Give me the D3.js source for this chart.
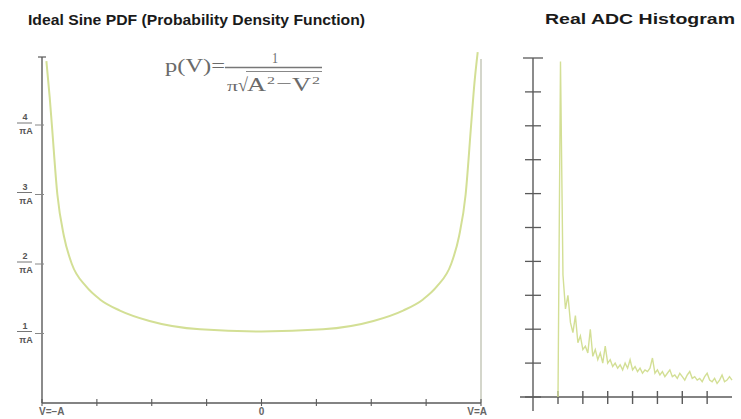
<!DOCTYPE html>
<html><head><meta charset="utf-8">
<script src="https://cdn.jsdelivr.net/npm/d3@7"></script>
<style>body{margin:0;background:#fff}svg{display:block}</style>
</head><body>
<script>
// ---- data ----
const pdfV = [-0.98,-0.965,-0.955,-0.93,-0.90,-0.864,-0.80,-0.736,-0.645,-0.51,-0.28,0,0.28,0.51,0.645,0.736,0.80,0.864,0.90,0.93,0.955,0.97,0.985];
const pdfP = [4.92,4.4,4.0,3.0,2.4,2.0,1.68,1.49,1.33,1.18,1.06,1.03,1.06,1.18,1.33,1.49,1.68,2.0,2.4,3.0,4.0,4.6,5.05];
const yTickVals = [1,2,3,4];
const yTickNums = ["1","2","3","4"];
const xTickVals = [-1,-0.75,-0.5,-0.25,0,0.25,0.5,0.75,1];
const xLabels = [{v:-1,t:"V=\u2212A"},{v:0,t:"0"},{v:1,t:"V=A"}];
const histCounts = [0,9.9,3.6,2.6,3.0,2.2,1.9,2.4,1.6,1.8,1.4,1.5,1.3,2.0,1.2,1.4,1.1,1.3,1.0,1.5,1.0,1.1,0.9,1.0,0.85,0.95,0.8,1.0,0.85,1.1,0.8,0.9,0.75,0.85,0.7,0.8,0.75,0.85,1.15,0.7,0.8,0.65,0.75,0.6,0.7,0.8,0.6,0.65,0.55,0.7,0.6,0.5,0.65,0.75,0.55,0.6,0.5,0.55,0.45,0.6,0.7,0.5,0.45,0.55,0.4,0.5,0.65,0.45,0.5,0.6,0.5];
const histYTicks = [0,1,2,3,4,5,6,7,8,9,10];
const histXTicks = [0,10,20,30,40,50,60];

const W=741,H=419;
const svg=d3.select("body").append("svg").attr("width",W).attr("height",H);
const axisCol="#5a5a5a", curveCol="#d3df95";
const sans="Liberation Sans, Arial, sans-serif";

// ---- left chart ----
const xL=d3.scaleLinear().domain([-1,1]).range([42,481]);
const yL=d3.scaleLinear().domain([0,5]).range([403,55.5]);

svg.append("text").attr("x",28).attr("y",25).attr("font-family",sans)
  .attr("font-weight","bold").attr("font-size",15).attr("fill","#1a1a1a")
  .attr("textLength",337).attr("lengthAdjust","spacingAndGlyphs")
  .text("Ideal Sine PDF (Probability Density Function)");

// right boundary line at V=A
svg.append("line").attr("x1",xL(1)).attr("x2",xL(1)).attr("y1",yL(0)).attr("y2",yL(4.95))
  .attr("stroke","#b8bba8").attr("stroke-width",1.2);

// axes
const gL=svg.append("g");
gL.append("line").attr("x1",xL(-1)).attr("x2",xL(-1)).attr("y1",yL(0)).attr("y2",57).attr("stroke",axisCol).attr("stroke-width",1.4);
gL.append("line").attr("x1",xL(-1)-4).attr("x2",xL(-1)+4).attr("y1",57).attr("y2",57).attr("stroke",axisCol).attr("stroke-width",1.2);
gL.append("line").attr("x1",xL(-1)).attr("x2",xL(1)).attr("y1",yL(0)).attr("y2",yL(0)).attr("stroke",axisCol).attr("stroke-width",1.4);
gL.selectAll(".xt").data(xTickVals).enter().append("line")
  .attr("x1",d=>xL(d)).attr("x2",d=>xL(d)).attr("y1",yL(0)-4).attr("y2",yL(0)+3)
  .attr("stroke",axisCol).attr("stroke-width",1.1);
gL.selectAll(".yt").data(yTickVals).enter().append("line")
  .attr("x1",xL(-1)-7).attr("x2",xL(-1)+2).attr("y1",d=>yL(d)).attr("y2",d=>yL(d))
  .attr("stroke","#888").attr("stroke-width",1);

// fraction labels
const fr=gL.selectAll(".fr").data(yTickVals).enter().append("g").attr("transform",d=>`translate(0,${yL(d)})`);
fr.append("text").attr("x",25).attr("y",-5).attr("text-anchor","middle").attr("font-family",sans)
  .attr("font-weight","bold").attr("font-size",9).attr("fill","#555").text((d,i)=>yTickNums[i]);
fr.append("line").attr("x1",17).attr("x2",32).attr("y1",-2).attr("y2",-2).attr("stroke","#777").attr("stroke-width",1);
fr.append("text").attr("x",26).attr("y",9).attr("text-anchor","middle").attr("font-family",sans)
  .attr("font-weight","bold").attr("font-size",9).attr("fill","#555").text("\u03c0A");

// x labels
gL.selectAll(".xl").data(xLabels).enter().append("text")
  .attr("x",d=>d.v===-1?xL(d.v)-3:(d.v===1?xL(d.v)+6:xL(d.v)))
  .attr("y",415).attr("text-anchor",d=>d.v===-1?"start":(d.v===1?"end":"middle"))
  .attr("font-family",sans).attr("font-weight","bold").attr("font-size",10).attr("fill","#666")
  .text(d=>d.t);

// curve
const pdfData=pdfV.map((v,i)=>[v,pdfP[i]]);
svg.append("path").datum(pdfData).attr("fill","none").attr("stroke",curveCol).attr("stroke-width",2)
  .attr("d",d3.line().x(d=>xL(d[0])).y(d=>yL(d[1])).curve(d3.curveMonotoneX));

// formula
const fx=svg.append("g").attr("font-family","Liberation Serif, DejaVu Serif, serif").attr("fill","#6a6a6a");
function piece(t,x,y,w,fs){fx.append("text").attr("x",x).attr("y",y).attr("font-size",fs)
  .attr("textLength",w).attr("lengthAdjust","spacingAndGlyphs").text(t);}
piece("p(V)=",165,72,60,19);
piece("1",272,63,6,14);
fx.append("line").attr("x1",225).attr("x2",322).attr("y1",67.5).attr("y2",67.5).attr("stroke","#777").attr("stroke-width",1.3);
piece("\u03c0",227,91,11,15);
piece("\u221a",238,91,10,19);
fx.append("line").attr("x1",246).attr("x2",322).attr("y1",71.5).attr("y2",71.5).attr("stroke","#888").attr("stroke-width",1);
piece("A",247,91,19,18);
piece("2",267,84,8,10);
piece("\u2212",276,89,16,16);
piece("V",292,91,19,18);
piece("2",312,84,8,10);

// ---- right chart ----
const xR=d3.scaleLinear().domain([0,histCounts.length-1]).range([558,732]);
const yR=d3.scaleLinear().domain([0,10]).range([397,58]);
const axR=533;

svg.append("text").attr("x",545).attr("y",24).attr("font-family",sans)
  .attr("font-weight","bold").attr("font-size",15).attr("fill","#1a1a1a")
  .attr("textLength",190).attr("lengthAdjust","spacingAndGlyphs").text("Real ADC Histogram");

const gR=svg.append("g");
gR.append("line").attr("x1",axR).attr("x2",axR).attr("y1",yR(10)).attr("y2",411).attr("stroke",axisCol).attr("stroke-width",1.4);
gR.append("line").attr("x1",520).attr("x2",732).attr("y1",yR(0)).attr("y2",yR(0)).attr("stroke",axisCol).attr("stroke-width",1.4);
gR.selectAll(".ryt").data(histYTicks).enter().append("line")
  .attr("x1",d=>d===10?axR-10:axR-8).attr("x2",d=>d===10?axR+10:axR+8)
  .attr("y1",d=>yR(d)).attr("y2",d=>yR(d)).attr("stroke",axisCol).attr("stroke-width",1.3);
gR.selectAll(".rxt").data(histXTicks).enter().append("line")
  .attr("x1",d=>xR(d)).attr("x2",d=>xR(d)).attr("y1",yR(0)-6).attr("y2",yR(0)+7)
  .attr("stroke",axisCol).attr("stroke-width",1.4);

svg.append("path").datum(histCounts).attr("fill","none").attr("stroke",curveCol).attr("stroke-width",1.4)
  .attr("d",d3.line().x((d,i)=>xR(i)).y(d=>yR(d)));
</script>
</body></html>
